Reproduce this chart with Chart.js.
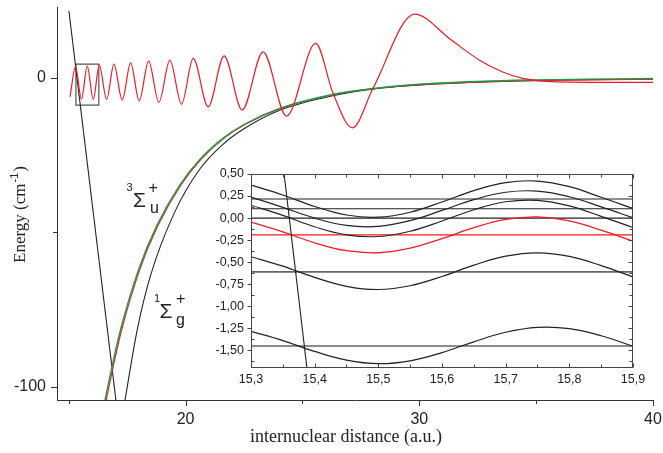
<!DOCTYPE html>
<html lang="en">
<head>
<meta charset="UTF-8">
<title>Potential curves</title>
<script src="https://cdn.jsdelivr.net/npm/chart.js"></script>
<style>
    * { margin: 0; padding: 0; box-sizing: border-box; }
    body { background: #fff; }
    #wrap { position: relative; width: 663px; height: 453px; }
    #main { position: absolute; left: 0; top: 0; }
    #inset { position: absolute; left: 200px; top: 160px; }
</style>
</head>
<body>
<div id="wrap">
    <canvas id="main" width="663" height="453"></canvas>
    <canvas id="inset" width="452" height="240"></canvas>
</div>
<script>
    const RED = '#ec1c24';
    const GREEN = '#1f9a4b';
    const INK = '#222';
    const SANS = "'Liberation Sans', Arial, sans-serif";
    const SERIF = "'Liberation Serif', 'Times New Roman', serif";

    // ---- main panel: energy (cm-1) against R (a.u.) ----
    const steepR = [15.01, 17.02];
    const steepE = [21.6, -104.2];

    // 3Sigma_u+ (green and red, nearly on top of each other)
    const sigmaUR = [16.5, 16.9, 17.22, 18.0, 18.77, 19.76, 20.61, 21.61, 22.5, 24.03, 26.3, 28.3, 30.9, 34.7, 40];
    const sigmaUE = [-106.2, -91.8, -81.4, -61.8, -47.8, -34.6, -26.4, -19.5, -15.1, -9.9, -5.4, -3.2, -1.7, -0.7, -0.2];
    const sigmaURedR = [16.55, 16.95, 17.27, 18.05, 18.82, 19.81, 20.66, 21.65, 22.54, 24.06, 26.32, 28.3, 30.9, 34.7, 40];
    const sigmaURedE = [-106.2, -91.8, -81.4, -61.8, -47.8, -34.6, -26.4, -19.5, -15.1, -9.9, -5.4, -3.3, -1.9, -0.9, -0.45];

    // 1Sigma_g+
    const sigmaGR = [17.37, 17.93, 18.5, 19.5, 20.58, 21.6, 22.5, 24.0, 26.3, 28.3, 30.9, 34.7, 40];
    const sigmaGE = [-106, -81.6, -64, -44, -29.8, -21.5, -16.5, -10.6, -5.8, -3.4, -1.9, -0.9, -0.45];

    // bound state wave function, extrema plus tail
    const waveR = [15.056, 15.291, 15.547, 15.795, 16.051, 16.308, 16.624, 16.936, 17.291, 17.650,
        18.017, 18.419, 18.859, 19.329, 19.829, 20.325, 20.966, 21.650, 22.419, 23.316,
        24.316, 25.568, 26.31, 27.137, 28.02, 29.799, 31.37, 32.58, 33.57, 34.43, 35.85, 40];
    const waveE = [-6.14, 3.56, -6.89, 3.78, -6.98, 4.11, -6.98, 4.43, -7.21, 4.85,
        -7.44, 5.40, -7.95, 5.72, -8.50, 6.27, -9.37, 7.11, -10.43, 8.41,
        -12.37, 11.12, -5.0, -16.17, -3.4, 20.59, 12.2, 5.7, 1.9, -0.2, -1.3, -1.5];

    // zoom window marker
    const boxR = [15.31, 16.29, 16.29, 15.31, 15.31];
    const boxE = [4.43, 4.43, -8.83, -8.83, 4.43];

    const mainXTicks = [15, 20, 25, 30, 35, 40];
    const mainYTicks = [-100, -50, 0];

    // ---- inset ----
    const insetR = [15.30, 15.35, 15.40, 15.45, 15.50, 15.55, 15.60, 15.65, 15.70, 15.75, 15.80, 15.85, 15.90];
    const curveA = [0.374, 0.262, 0.132, 0.035, 0.010, 0.066, 0.183, 0.312, 0.403, 0.420, 0.356, 0.236, 0.108];
    const curveB = [0.238, 0.122, 0.000, -0.083, -0.094, -0.029, 0.087, 0.209, 0.293, 0.306, 0.242, 0.127, 0.004];
    const curveC = [0.146, 0.031, -0.098, -0.190, -0.209, -0.149, -0.033, 0.095, 0.185, 0.201, 0.138, 0.020, -0.107];
    const curveRed = [-0.046, -0.157, -0.280, -0.370, -0.393, -0.341, -0.233, -0.109, -0.015, 0.014, -0.032, -0.137, -0.262];
    const curveD = [-0.438, -0.544, -0.672, -0.774, -0.810, -0.767, -0.662, -0.534, -0.432, -0.394, -0.435, -0.539, -0.667];
    const curveF = [-1.285, -1.389, -1.512, -1.610, -1.651, -1.619, -1.526, -1.403, -1.295, -1.239, -1.253, -1.334, -1.453];
    const blackLevels = [0.216, 0.106, 0.0];
    const redLevel = -0.19;
    const greyLevels = [-0.61, -1.45];
    const insetSteepR = [15.352, 15.388];
    const insetSteepE = [0.5, -1.71];

    const insetXTicks = [15.3, 15.4, 15.5, 15.6, 15.7, 15.8, 15.9];
    const insetXMinor = [15.35, 15.45, 15.55, 15.65, 15.75, 15.85];
    const insetYTicks = [-1.5, -1.25, -1.0, -0.75, -0.5, -0.25, 0, 0.25, 0.5];
    const insetYMinor = [-1.625, -1.375, -1.125, -0.875, -0.625, -0.375, -0.125, 0.125, 0.375];

    const pts = (xs, ys) => xs.map((x, i) => ({ x: x, y: ys[i] }));
    const flat = (v) => [{ x: 15.3, y: v }, { x: 15.9, y: v }];

    function line(data, color, width, extra) {
        return Object.assign({
            data: data, showLine: true, borderColor: color, borderWidth: width,
            pointRadius: 0, fill: false
        }, extra || {});
    }

    // outward ticks, long at labelled values
    const mainTicks = {
        id: 'mainTicks',
        afterDraw(chart) {
            const { ctx, chartArea: a, scales: { x, y } } = chart;
            ctx.save();
            ctx.strokeStyle = '#333';
            ctx.lineWidth = 1;
            ctx.beginPath();
            mainXTicks.forEach(v => {
                const px = Math.round(x.getPixelForValue(v)) + 0.5;
                ctx.moveTo(px, a.bottom);
                ctx.lineTo(px, a.bottom + (v % 10 === 0 ? 6 : 4));
            });
            mainYTicks.forEach(v => {
                const py = Math.round(y.getPixelForValue(v)) + 0.5;
                ctx.moveTo(a.left, py);
                ctx.lineTo(a.left - (v % 100 === 0 ? 6 : 4), py);
            });
            ctx.stroke();
            ctx.restore();
        }
    };

    const mainText = {
        id: 'mainText',
        afterDraw(chart) {
            const ctx = chart.ctx;
            const put = (t, x, y, size, fam) => {
                ctx.font = size + 'px ' + fam;
                ctx.fillText(t, x, y);
                return ctx.measureText(t).width;
            };
            ctx.save();
            ctx.fillStyle = INK;
            ctx.textAlign = 'left';
            ctx.textBaseline = 'alphabetic';
            put('3', 126.5, 190.7, 11, SANS);
            put('\u03A3', 133, 207.3, 21, SANS);
            put('+', 148.5, 192.7, 16, SANS);
            put('u', 150, 212.7, 16, SANS);
            put('1', 154, 301.7, 11, SANS);
            put('\u03A3', 159.5, 318.3, 21, SANS);
            put('+', 176, 304.4, 16, SANS);
            put('g', 176, 325, 16, SANS);
            put('internuclear distance (a.u.)', 250, 442, 18, SERIF);
            ctx.translate(25, 263);
            ctx.rotate(-Math.PI / 2);
            const w = put('Energy (cm', 0, 0, 17, SERIF);
            const w2 = put('-1', w + 1, -7, 11, SANS);
            put(')', w + w2 + 2, 0, 17, SERIF);
            ctx.restore();
        }
    };

    new Chart(document.getElementById('main'), {
        type: 'scatter',
        data: {
            datasets: [
                line(pts(waveR, waveE), RED, 1.2, { cubicInterpolationMode: 'monotone' }),
                line(pts(sigmaUR, sigmaUE), GREEN, 1.4, { cubicInterpolationMode: 'monotone' }),
                line(pts(sigmaURedR, sigmaURedE), RED, 1.2, { cubicInterpolationMode: 'monotone' }),
                line(pts(sigmaGR, sigmaGE), INK, 1.1, { cubicInterpolationMode: 'monotone' }),
                line(pts(steepR, steepE), INK, 1.1),
                line(pts(boxR, boxE), '#555', 1.2)
            ]
        },
        options: {
            responsive: false,
            animation: false,
            devicePixelRatio: 1,
            layout: { padding: { top: 7, right: 10, left: 0, bottom: 0 } },
            plugins: { legend: { display: false }, tooltip: { enabled: false } },
            scales: {
                x: {
                    type: 'linear', min: 14.5, max: 40,
                    grid: { display: false, drawTicks: false },
                    border: { color: '#333', width: 1 },
                    afterBuildTicks: s => { s.ticks = mainXTicks.map(v => ({ value: v })); },
                    afterFit: s => { s.height = 53; s.paddingLeft = 0; s.paddingRight = 0; },
                    ticks: {
                        padding: 10, color: INK, autoSkip: false, maxRotation: 0,
                        font: { family: SANS, size: 16 },
                        callback: v => (v % 10 === 0 ? String(v) : '')
                    }
                },
                y: {
                    type: 'linear', min: -104.2, max: 22.9,
                    grid: { display: false, drawTicks: false },
                    border: { color: '#333', width: 1 },
                    afterBuildTicks: s => { s.ticks = mainYTicks.map(v => ({ value: v })); },
                    afterFit: s => { s.width = 57; s.paddingTop = 0; s.paddingBottom = 0; },
                    ticks: {
                        padding: 11, color: INK, autoSkip: false,
                        font: { family: SANS, size: 16 },
                        callback: v => (v % 100 === 0 ? String(v) : '')
                    }
                }
            }
        },
        plugins: [mainTicks, mainText]
    });

    // white plot area, frame and inward ticks for the inset
    const insetFrame = {
        id: 'insetFrame',
        beforeDraw(chart) {
            const { ctx, chartArea: a } = chart;
            ctx.save();
            ctx.fillStyle = '#fff';
            ctx.fillRect(a.left, a.top, a.right - a.left, a.bottom - a.top);
            ctx.restore();
        },
        afterDraw(chart) {
            const { ctx, chartArea: a, scales: { x, y } } = chart;
            const L = Math.round(a.left) + 0.5, R = Math.round(a.right) - 0.5;
            const T = Math.round(a.top) + 0.5, B = Math.round(a.bottom) - 0.5;
            ctx.save();
            ctx.strokeStyle = '#444';
            ctx.lineWidth = 1;
            ctx.strokeRect(L, T, R - L, B - T);
            ctx.beginPath();
            const xt = (v, len) => {
                const px = Math.round(x.getPixelForValue(v)) + 0.5;
                ctx.moveTo(px, B); ctx.lineTo(px, B - len);
                ctx.moveTo(px, T); ctx.lineTo(px, T + len);
            };
            insetXTicks.forEach(v => xt(v, 4));
            insetXMinor.forEach(v => xt(v, 3));
            insetYTicks.forEach(v => {
                const py = Math.round(y.getPixelForValue(v)) + 0.5;
                ctx.moveTo(L, py); ctx.lineTo(L - 4, py);
                ctx.moveTo(R, py); ctx.lineTo(R - 4, py);
            });
            insetYMinor.forEach(v => {
                const py = Math.round(y.getPixelForValue(v)) + 0.5;
                ctx.moveTo(L, py); ctx.lineTo(L + 3, py);
                ctx.moveTo(R, py); ctx.lineTo(R - 3, py);
            });
            ctx.stroke();
            ctx.restore();
        }
    };

    const wave = { tension: 0.4 };
    new Chart(document.getElementById('inset'), {
        type: 'scatter',
        data: {
            datasets: [
                line(pts(insetSteepR, insetSteepE), INK, 1.1),
                line(pts(insetR, curveRed), RED, 1.3, wave),
                line(pts(insetR, curveA), INK, 1.2, wave),
                line(pts(insetR, curveB), INK, 1.2, wave),
                line(pts(insetR, curveC), INK, 1.2, wave),
                line(pts(insetR, curveD), INK, 1.2, wave),
                line(pts(insetR, curveF), INK, 1.2, wave),
                line(flat(redLevel), RED, 1.3),
                ...blackLevels.map(v => line(flat(v), INK, 1.1)),
                ...greyLevels.map(v => line(flat(v), '#666', 1.6))
            ]
        },
        options: {
            responsive: false,
            animation: false,
            devicePixelRatio: 1,
            layout: { padding: { top: 14, right: 19, left: 0, bottom: 0 } },
            plugins: { legend: { display: false }, tooltip: { enabled: false } },
            scales: {
                x: {
                    type: 'linear', min: 15.3, max: 15.9,
                    grid: { display: false, drawTicks: false },
                    border: { display: false },
                    afterBuildTicks: s => { s.ticks = insetXTicks.map(v => ({ value: v })); },
                    afterFit: s => { s.height = 32; s.paddingLeft = 0; s.paddingRight = 0; },
                    ticks: {
                        padding: 4, color: INK, autoSkip: false, maxRotation: 0,
                        font: { family: SANS, size: 12.5 },
                        callback: v => v.toFixed(1).replace('.', ',')
                    }
                },
                y: {
                    type: 'linear', min: -1.7, max: 0.5,
                    grid: { display: false, drawTicks: false },
                    border: { display: false },
                    afterBuildTicks: s => { s.ticks = insetYTicks.map(v => ({ value: v })); },
                    afterFit: s => { s.width = 51; s.paddingTop = 0; s.paddingBottom = 0; },
                    ticks: {
                        padding: 7, color: INK, autoSkip: false,
                        font: { family: SANS, size: 12.5 },
                        callback: v => v.toFixed(2).replace('.', ',')
                    }
                }
            }
        },
        plugins: [insetFrame]
    });
</script>
</body>
</html>
